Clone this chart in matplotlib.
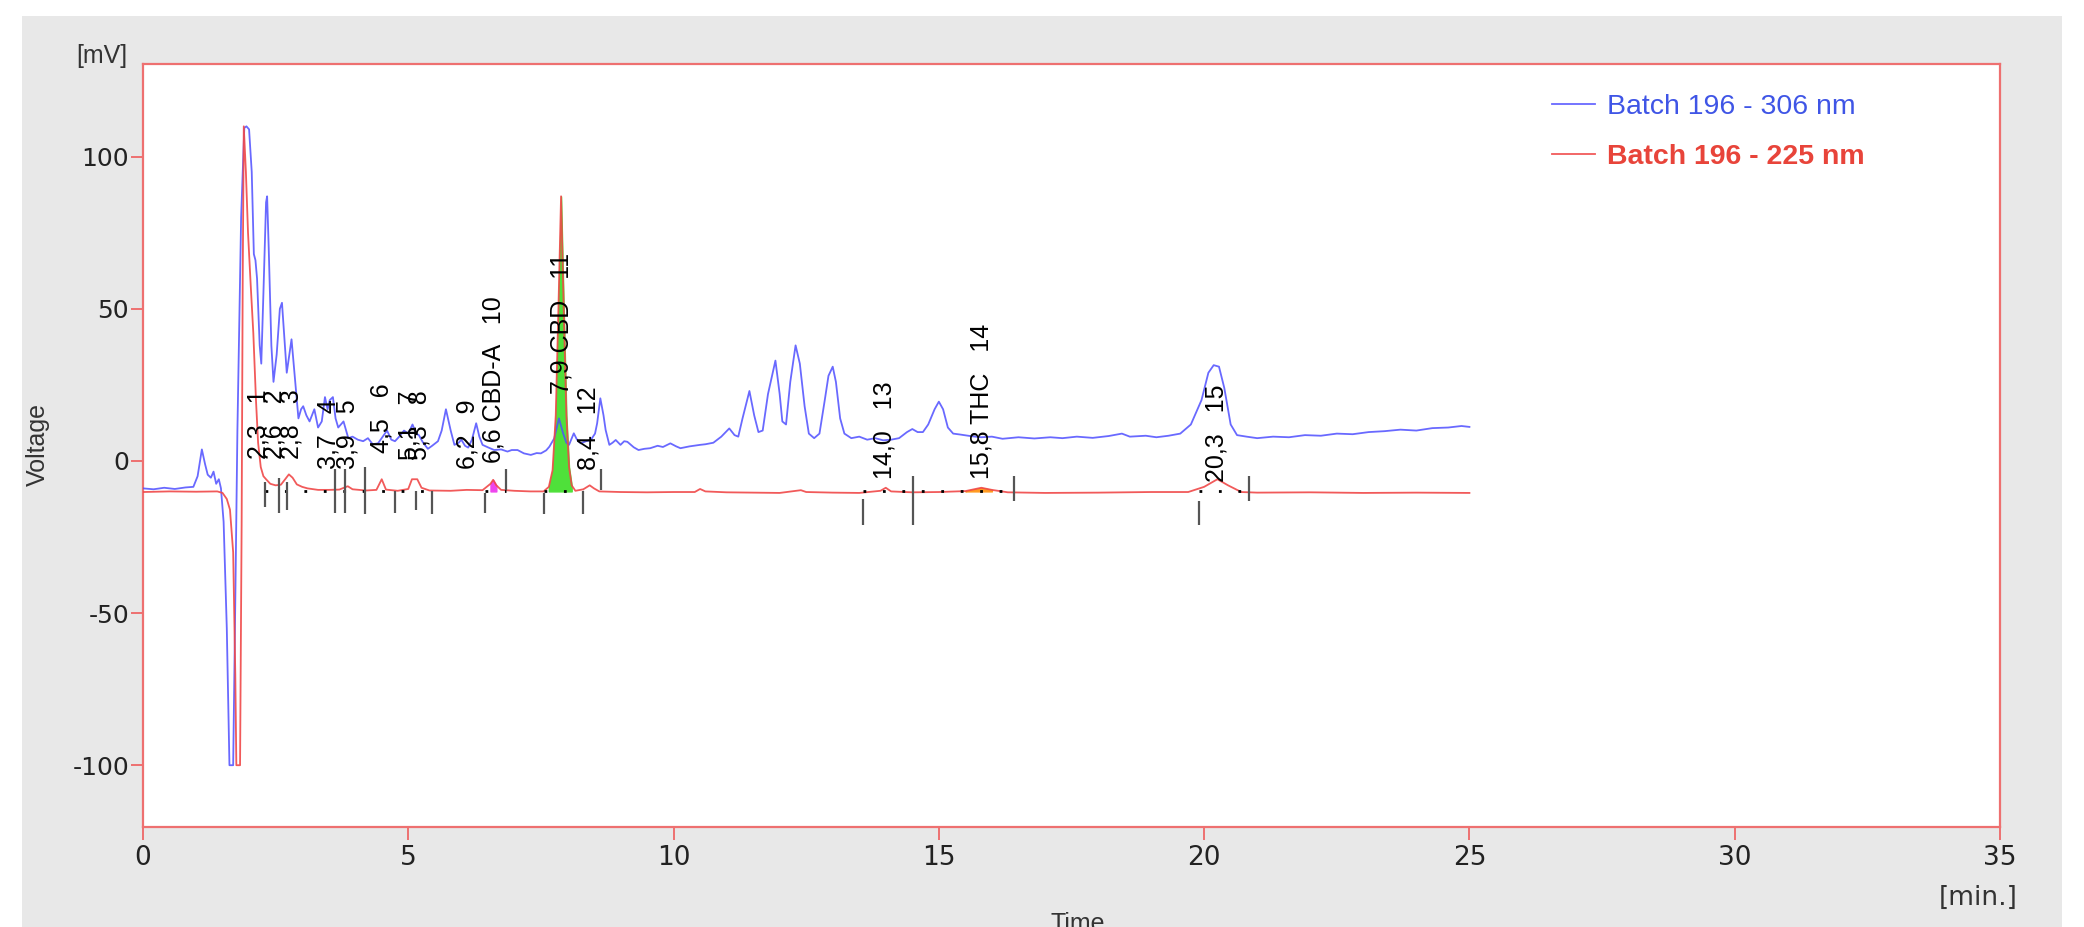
import matplotlib
matplotlib.use("Agg")
import matplotlib.pyplot as plt
from matplotlib.patches import Rectangle
import numpy as np

plt.rcParams["axes.unicode_minus"] = False

# blue trace, 306 nm (time [min], voltage [mV])
blue_t = [0.0, 0.2, 0.4, 0.6, 0.8, 0.95, 1.03, 1.11, 1.17, 1.22, 1.28, 1.33, 1.38, 1.43, 1.47,
          1.52, 1.58, 1.63, 1.70, 1.73, 1.78, 1.85, 1.91, 1.95, 2.0, 2.05, 2.09, 2.12, 2.15, 2.2,
          2.23, 2.27, 2.32, 2.34, 2.37, 2.42, 2.46, 2.52, 2.58, 2.62, 2.66, 2.71, 2.76, 2.80, 2.85,
          2.93, 2.98, 3.02, 3.08, 3.14, 3.23, 3.3, 3.37, 3.43, 3.48, 3.52, 3.58, 3.63, 3.68, 3.78,
          3.87, 3.95, 4.05, 4.15, 4.24, 4.33, 4.43, 4.52, 4.6, 4.68, 4.75, 4.83, 4.92, 5.0, 5.08,
          5.15, 5.2, 5.28, 5.37, 5.45, 5.56, 5.63, 5.71, 5.8, 5.87, 5.95, 6.0, 6.07, 6.13, 6.2,
          6.28, 6.34, 6.4, 6.5, 6.62, 6.75, 6.87, 6.95, 7.06, 7.18, 7.31, 7.42, 7.5, 7.6, 7.66,
          7.75, 7.84, 7.92, 7.98, 8.03, 8.12, 8.18, 8.25, 8.35, 8.44, 8.52, 8.56, 8.62, 8.68, 8.72,
          8.79, 8.85, 8.91, 9.0, 9.07, 9.13, 9.25, 9.34, 9.45, 9.56, 9.7, 9.8, 9.94, 10.05, 10.13,
          10.3, 10.5, 10.6, 10.75, 10.9, 11.05, 11.15, 11.22, 11.3, 11.43, 11.52, 11.6, 11.68, 11.78,
          11.92, 12.0, 12.05, 12.12, 12.2, 12.3, 12.38, 12.47, 12.55, 12.65, 12.75, 12.85, 12.92,
          13.0, 13.06, 13.14, 13.22, 13.35, 13.5, 13.65, 13.8, 13.95, 14.1, 14.25, 14.4, 14.5,
          14.6, 14.7, 14.8, 14.92, 15.0, 15.08, 15.17, 15.27, 15.4, 15.63, 15.8, 16.0, 16.2, 16.5,
          16.8, 17.1, 17.33, 17.6, 17.9, 18.2, 18.45, 18.6, 18.9, 19.1, 19.33, 19.55, 19.75, 19.95,
          20.08, 20.18, 20.28, 20.38, 20.5, 20.62, 20.8, 21.0, 21.3, 21.6, 21.9, 22.2, 22.5, 22.8,
          23.1, 23.4, 23.7, 24.0, 24.3, 24.6, 24.85, 25.0]
blue_v = [-9.0, -9.3, -8.8, -9.2, -8.7, -8.5, -5.0, 3.8, -1.0, -4.5, -5.5, -3.5, -7.5, -6.0, -9.0,
          -20.0, -55.0, -100.0, -100.0, -60.0, 10.0, 80.0, 109.5, 110.0, 109.0, 95.0, 68.0, 66.0, 60.0, 38.0,
          32.0, 55.0, 85.0, 87.0, 70.0, 38.0, 26.0, 35.0, 50.0, 52.0, 42.0, 29.0, 35.0, 40.0, 30.0,
          14.0, 17.0, 18.0, 15.0, 13.0, 17.0, 11.0, 13.0, 21.0, 17.0, 20.0, 21.0, 14.0, 11.0, 13.0,
          7.5, 8.0, 7.0, 6.5, 7.5, 5.5, 5.8, 8.0, 10.0, 7.0, 6.5, 8.0, 10.0, 9.0, 12.0,
          9.0, 8.5, 6.0, 4.0, 5.0, 6.5, 10.0, 17.0, 10.0, 5.3, 6.0, 7.0, 5.0, 4.4, 7.0,
          12.4, 8.0, 5.3, 4.5, 3.6, 3.8, 3.1, 3.6, 3.6, 2.5, 2.0, 2.6, 2.5, 3.5, 4.7,
          7.4, 14.0, 9.0, 6.0, 5.3, 9.1, 7.0, 5.8, 6.5, 6.9, 9.0, 12.4, 20.6, 15.0, 10.2,
          5.3, 6.0, 6.9, 5.3, 6.5, 6.3, 4.5, 3.6, 4.0, 4.2, 5.0, 4.6, 5.8, 4.8, 4.2,
          4.8, 5.3, 5.5, 6.0, 8.0, 10.7, 8.5, 8.0, 14.0, 23.0, 15.0, 9.5, 10.0, 22.0,
          33.0, 22.0, 13.0, 12.0, 26.0, 38.0, 32.0, 18.0, 9.0, 7.5, 9.0, 20.0, 28.0,
          31.0, 26.0, 14.0, 9.0, 7.5, 8.0, 7.0, 7.5, 6.8, 7.0, 7.5, 9.5, 10.5,
          9.5, 9.5, 12.0, 17.0, 19.5, 17.0, 11.0, 9.0, 8.7, 8.1, 7.8, 8.0, 7.3, 7.8,
          7.4, 7.8, 7.5, 8.0, 7.6, 8.2, 9.0, 8.0, 8.3, 7.8, 8.3, 9.0, 12.0, 20.0,
          29.0, 31.5, 31.0, 24.0, 12.0, 8.5, 8.0, 7.5, 8.0, 7.8, 8.5, 8.3, 9.0, 8.8,
          9.5, 9.8, 10.3, 10.0, 10.8, 11.0, 11.5, 11.2]

# red trace, 225 nm
red_t = [0.0, 0.5, 1.0, 1.4, 1.5, 1.58, 1.64, 1.7, 1.74, 1.76, 1.83, 1.86, 1.88, 1.9, 1.94,
         1.98, 2.03, 2.08, 2.13, 2.17, 2.22, 2.27, 2.32, 2.4, 2.5, 2.6, 2.68, 2.75, 2.82, 2.9,
         3.0, 3.1, 3.3, 3.5, 3.7, 3.86, 3.95, 4.2, 4.4, 4.5, 4.58, 4.8, 5.0, 5.07, 5.17,
         5.25, 5.4, 5.8, 6.1, 6.4, 6.55, 6.6, 6.66, 6.75, 7.0, 7.3, 7.55, 7.65, 7.72, 7.78,
         7.83, 7.88, 7.93, 7.98, 8.03, 8.08, 8.15, 8.3, 8.42, 8.5, 8.6, 9.0, 9.5, 10.0, 10.4,
         10.5, 10.6, 11.0, 11.5, 12.0, 12.4, 12.5, 13.0, 13.5, 13.9, 14.0, 14.1, 14.5, 15.0, 15.5,
         15.8, 16.0, 16.3, 17.0, 18.0, 19.0, 19.7, 20.0, 20.25, 20.45, 20.7, 21.0, 22.0, 23.0, 24.0,
         25.0]
red_v = [-10.2, -10.0, -10.1, -10.0, -10.5, -12.5, -16.0, -30.0, -70.0, -100.0, -100.0, -20.0, 60.0, 110.0, 95.0,
         75.0, 58.0, 42.0, 20.0, 6.0, -2.0, -5.0, -6.0, -7.5, -8.0, -7.8, -6.0, -4.4, -5.5, -7.7,
         -8.5, -9.0, -9.5, -9.5, -9.4, -8.3, -9.3, -9.7, -9.5, -6.0, -9.4, -9.8, -9.2, -6.0, -6.0,
         -8.8, -9.7, -9.8, -9.5, -9.6, -7.5, -6.2, -8.0, -9.5, -9.8, -10.0, -10.0, -8.5, -3.0, 15.0,
         50.0, 87.0, 50.0, 15.0, -2.0, -8.0, -9.8, -9.3, -8.0, -9.0, -10.0, -10.2, -10.3, -10.2, -10.2,
         -9.2, -10.0, -10.3, -10.4, -10.5, -9.6, -10.2, -10.4, -10.5, -9.8, -8.8, -10.0, -10.3, -10.2, -9.9,
         -8.8, -9.5, -10.3, -10.5, -10.4, -10.2, -10.2, -8.5, -6.0, -8.0, -10.2, -10.4, -10.3, -10.5, -10.4,
         -10.5]

# integrated peaks
peak_x = [2.17, 2.47, 2.8, 3.5, 3.86, 4.5, 5.03, 5.22, 6.12, 6.6, 7.88, 8.4, 13.98, 15.8, 20.23]
peak_num = ["1", "2", "3", "4", "5", "6", "7", "8", "9", "10", "11", "12", "13", "14", "15"]
peak_rt = ["2,3", "2,6", "2,8", "3,7", "3,9", "4,5", "5,1", "5,3", "6,2", "6,6", "7,9", "8,4",
           "14,0", "15,8", "20,3"]
peak_name = ["", "", "", "", "", "", "", "", "", "CBD-A", "CBD", "", "", "THC", ""]
label_base = [0.5, 0.5, 0.5, -2.5, -2.5, 2.5, 0.3, 0.3, -2.6, -0.7, 22.0, -3.0, -6.0, -6.0, -7.0]

# peak start / end markers
marker_t = [2.30, 2.57, 2.71, 3.62, 3.81, 4.18, 4.75, 5.14, 5.44, 6.45, 6.85, 7.55, 8.30, 8.64,
            13.58, 14.52, 16.42, 19.9, 20.84]
marker_lo = [-15, -17, -16, -17, -17, -17.5, -17, -16, -17.5, -17, -9.5, -17.5, -17.5, -9.5,
             -21, -21, -13, -21, -13]
marker_hi = [-7, -5.5, -7, -2.5, -2.5, -2, -10, -10, -10, -10.5, -2.5, -10.5, -10, -2.5,
             -12.5, -5, -5, -13, -5]

# peak baselines (start, end)
base_start = [2.30, 6.45, 7.55, 13.58, 19.9]
base_end = [5.44, 6.85, 8.30, 16.42, 20.84]
base_level = -10.0

fig = plt.figure(figsize=(20.84, 9.27), dpi=100)
fig.patch.set_facecolor("white")
fig.patches.append(Rectangle((0.0106, 0.0), 0.9788, 0.9827, transform=fig.transFigure,
                             facecolor="#e8e8e8", edgecolor="none", zorder=-10))

ax = fig.add_axes([0.0686, 0.1079, 0.8911, 0.8231])
ax.set_facecolor("white")

bt = np.array(blue_t)
rt = np.array(red_t)
rv = np.array(red_v)

# coloured peak areas on the 225 nm trace
ax.fill_between(rt, rv, base_level, where=(rt >= 7.6) & (rt <= 8.1), color="#4fe03a", zorder=2)
ax.fill_between(rt, rv, base_level, where=(rt >= 6.5) & (rt <= 6.7), color="#ee44ee", zorder=2)
ax.fill_between(rt, rv, base_level, where=(rt >= 15.5) & (rt <= 16.0), color="#ff9a20", zorder=2)

blue_line, = ax.plot(bt, blue_v, color="#4f4fff", lw=1.3, alpha=0.85, zorder=3,
                     label="Batch 196 - 306 nm")
red_line, = ax.plot(rt, rv, color="#f04848", lw=1.3, alpha=0.9, zorder=4,
                    label="Batch 196 - 225 nm")

for s, e in zip(base_start, base_end):
    ax.plot([s, e], [base_level, base_level], color="black", lw=2, ls=(0, (1, 6)), zorder=5)

ax.vlines(marker_t, marker_lo, marker_hi, color="#555555", lw=1.6, zorder=5)

for x, n, r, name, b in zip(peak_x, peak_num, peak_rt, peak_name, label_base):
    txt = r + (" " + name if name else "") + "   " + n
    ax.text(x, b, txt, rotation=90, ha="center", va="bottom", fontsize=18,
            family=["Liberation Sans", "DejaVu Sans"], color="black", zorder=6)

ax.set_xlim(0, 35)
ax.set_ylim(-120.3, 130.5)
ax.set_xticks([0, 5, 10, 15, 20, 25, 30, 35])
ax.set_yticks([-100, -50, 0, 50, 100])

for sp in ax.spines.values():
    sp.set_color("#ee7070")
    sp.set_linewidth(1.6)

ax.tick_params(axis="both", direction="out", length=9, width=1.4, color="#ee7070",
               labelcolor="#222222")
ax.tick_params(axis="y", labelsize=18, pad=1)
ax.tick_params(axis="x", labelsize=19, pad=4)
for lab in ax.get_yticklabels():
    lab.set_family(["DejaVu Sans"])
for lab in ax.get_xticklabels():
    lab.set_family(["Liberation Sans Narrow", "DejaVu Sans"])

fig.text(0.049, 0.940, "[mV]", ha="center", va="center", fontsize=18, color="#333333",
         family=["Liberation Sans", "DejaVu Sans"])
fig.text(0.949, 0.031, "[min.]", ha="center", va="center", fontsize=19, color="#333333",
         family=["Liberation Sans Narrow", "DejaVu Sans"])
fig.text(0.018, 0.521, "Voltage", rotation=90, ha="center", va="center", fontsize=18,
         color="#333333", family=["Liberation Sans", "DejaVu Sans"])
fig.text(0.517, 0.016, "Time", ha="center", va="top", fontsize=18, color="#333333",
         family=["Liberation Sans", "DejaVu Sans"])

leg = ax.legend(handles=[blue_line, red_line], loc="upper left", bbox_to_anchor=(0.7447, 0.899),
                bbox_transform=fig.transFigure, frameon=False, borderaxespad=0, borderpad=0,
                handlelength=1.5, handletextpad=0.45, labelspacing=0.85,
                prop={"family": ["Liberation Sans", "DejaVu Sans"], "size": 20.5})
leg.get_texts()[0].set_color("#3f55e6")
leg.get_texts()[1].set_color("#e8443a")
leg.get_texts()[1].set_fontweight("bold")

fig.savefig("out.png", dpi=100)
